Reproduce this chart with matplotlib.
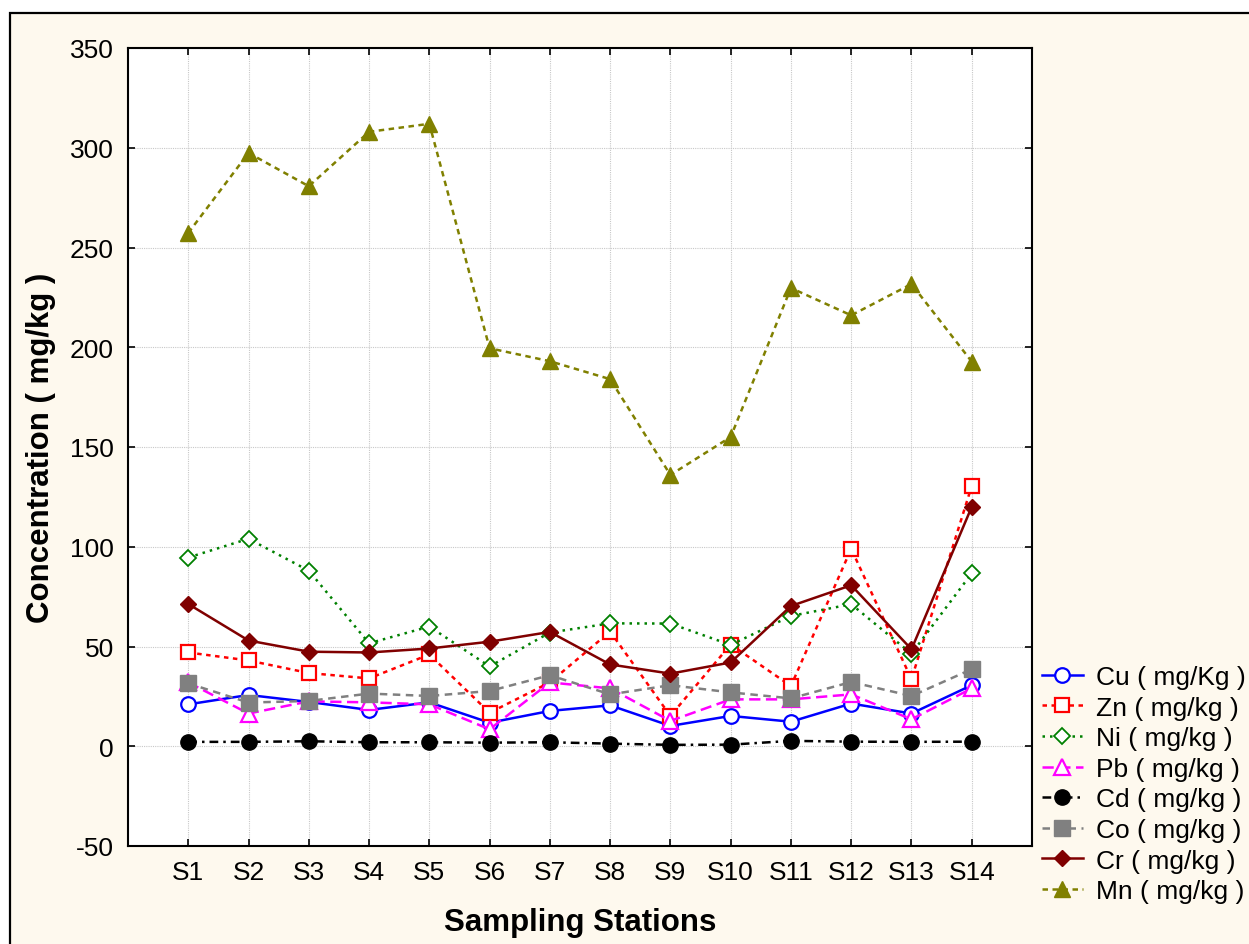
import matplotlib
matplotlib.use("Agg")
import matplotlib.pyplot as plt
from matplotlib.patches import Rectangle

plt.rcParams['font.family'] = ['Liberation Sans', 'DejaVu Sans']
plt.rcParams['axes.unicode_minus'] = False

stations = ['S1', 'S2', 'S3', 'S4', 'S5', 'S6', 'S7', 'S8', 'S9', 'S10', 'S11', 'S12', 'S13', 'S14']

cu = [21, 25.7, 22.2, 18.2, 22, 11.8, 17.7, 20.5, 10.2, 15.2, 12.3, 21.4, 16.4, 30.6]
zn = [47, 43, 36.7, 34, 46, 16.8, 32, 57.5, 15.2, 51, 30.2, 99, 33.6, 130.5]
ni = [94.6, 104, 88, 51.6, 60, 40, 57, 61.6, 61.5, 50.8, 65.3, 71.2, 46.4, 86.7]
pb = [32, 16.4, 22.5, 22, 21, 8.5, 32, 29, 12.7, 23.5, 23.5, 26, 13.5, 29]
cd = [2.2, 2.2, 2.5, 2, 2, 1.8, 2, 1.3, 0.7, 0.8, 2.7, 2.3, 2.2, 2.3]
co = [31.5, 21.9, 22.7, 26.4, 25.2, 27.7, 35.6, 26, 30.6, 27, 24, 32.2, 25.2, 38.6]
cr = [71.3, 53, 47.4, 47, 49, 52.4, 57.3, 41, 36.4, 42, 70.3, 80.7, 48.6, 120]
mn = [257.3, 297.4, 280.7, 308, 312, 199.5, 193, 184, 136, 155, 229.7, 216, 231.7, 192.8]

x = list(range(1, len(stations) + 1))

fig = plt.figure(figsize=(12.49, 9.45), dpi=100, facecolor='white')
# cream panel with black frame along the top and left edges
fig.patches.append(Rectangle((10 / 1249, -0.2), 1.2, 1.2 - 14 / 945,
                             transform=fig.transFigure, facecolor='#FEF9EE',
                             edgecolor='black', linewidth=1.6, zorder=-1))

ax = fig.add_axes([128 / 1249, 1 - 847 / 945, 904 / 1249, 798 / 945])
ax.set_facecolor('white')

lw = 1.8
ax.plot(x, cu, color='#0000FF', linestyle='-', lw=lw, marker='o', ms=10.5,
        mfc='white', mec='#0000FF', mew=1.6, label='Cu ( mg/Kg )')
ax.plot(x, zn, color='#FF0000', linestyle=(0, (1.8, 1.8)), lw=lw, marker='s', ms=10.5,
        mfc='white', mec='#FF0000', mew=1.6, label='Zn ( mg/kg )')
ax.plot(x, ni, color='#008000', linestyle=(0, (1, 2)), lw=lw, marker='D', ms=8.5,
        mfc='white', mec='#008000', mew=1.3, label='Ni ( mg/kg )')
ax.plot(x, pb, color='#FF00FF', linestyle=(0, (4.5, 2.2)), lw=lw, marker='^', ms=11,
        mfc='white', mec='#FF00FF', mew=1.6, label='Pb ( mg/kg )')
ax.plot(x, cd, color='black', linestyle=(0, (3.5, 2, 1, 2)), lw=lw, marker='o', ms=11,
        mfc='black', mec='black', label='Cd ( mg/kg )')
ax.plot(x, co, color='#808080', linestyle=(0, (3, 2.2)), lw=lw, marker='s', ms=11,
        mfc='#808080', mec='#808080', label='Co ( mg/kg )')
ax.plot(x, cr, color='#800000', linestyle='-', lw=lw, marker='D', ms=8.5,
        mfc='#800000', mec='#800000', label='Cr ( mg/kg )')
ax.plot(x, mn, color='#808000', linestyle=(0, (2.2, 1.8)), lw=lw, marker='^', ms=11.5,
        mfc='#808000', mec='#808000', label='Mn ( mg/kg )')

ax.set_xlim(0, 15)
ax.set_ylim(-50, 350)
ax.set_xticks(x)
ax.set_xticklabels(stations)
ax.set_yticks(range(-50, 351, 50))

ax.grid(True, color='#C8C8C8', linestyle=(0, (1, 1)), linewidth=0.8)
ax.set_axisbelow(True)
for sp in ax.spines.values():
    sp.set_linewidth(1.5)
    sp.set_color('black')
ax.tick_params(direction='in', length=5, width=1.2, labelsize=19, pad=10,
               top=True, right=True)

ax.set_ylabel('Concentration ( mg/kg )', fontsize=22.5, fontweight='bold')
ax.set_xlabel('Sampling Stations', fontsize=22.5, fontweight='bold')
ax.yaxis.set_label_coords(-0.08, 0.5)
ax.xaxis.set_label_coords(0.5, -0.076)

fig.legend(loc='upper left', bbox_to_anchor=(1042 / 1249, 1 - 666 / 945),
           frameon=False, fontsize=19, numpoints=1, handlelength=1.55,
           handletextpad=0.5, labelspacing=0.25, borderpad=0, borderaxespad=0)

fig.savefig('out.png', dpi=100, facecolor=fig.get_facecolor())
